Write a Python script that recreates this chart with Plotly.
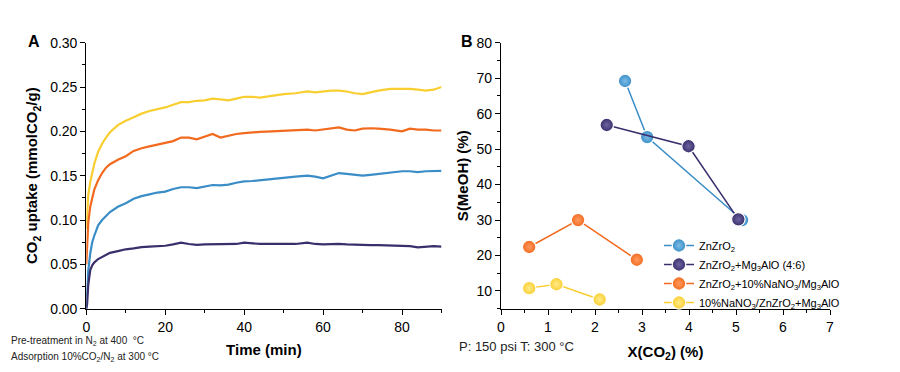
import plotly.graph_objects as go

# ---------------- Panel A data ----------------
time_min = [0, 0.2, 0.5, 1, 1.5, 2, 3, 4, 5, 6, 8, 10, 12, 14, 16, 18, 20, 22, 24, 26, 28, 30,
            32, 34, 36, 38, 40, 42, 44, 47, 50, 53, 56, 58, 60, 62, 64, 66, 68, 70, 72, 74,
            77, 80, 82, 84, 86, 88, 90]

uptake_yellow = [0.09, 0.111, 0.128, 0.143, 0.153, 0.163, 0.177, 0.186, 0.193, 0.199, 0.207, 0.212,
                 0.216, 0.220, 0.223, 0.225, 0.227, 0.230, 0.233, 0.233, 0.2345, 0.235, 0.237, 0.236,
                 0.235, 0.237, 0.239, 0.239, 0.238, 0.240, 0.242, 0.243, 0.245, 0.244, 0.245, 0.246,
                 0.246, 0.245, 0.243, 0.242, 0.244, 0.246, 0.248, 0.248, 0.248, 0.247, 0.246, 0.247, 0.250]

uptake_orange = [0.05, 0.078, 0.097, 0.115, 0.126, 0.134, 0.145, 0.153, 0.159, 0.163, 0.168, 0.172,
                 0.178, 0.181, 0.183, 0.185, 0.187, 0.189, 0.193, 0.193, 0.191, 0.194, 0.197, 0.193,
                 0.195, 0.197, 0.198, 0.199, 0.1995, 0.200, 0.2005, 0.201, 0.202, 0.201, 0.202, 0.203,
                 0.2045, 0.202, 0.201, 0.203, 0.2035, 0.203, 0.202, 0.200, 0.203, 0.202, 0.202, 0.201, 0.201]

uptake_blue = [0.0, 0.025, 0.043, 0.0625, 0.075, 0.082, 0.094, 0.100, 0.105, 0.109, 0.115, 0.119,
               0.124, 0.127, 0.129, 0.131, 0.132, 0.135, 0.137, 0.137, 0.136, 0.138, 0.1395, 0.139,
               0.140, 0.142, 0.1435, 0.144, 0.145, 0.146, 0.148, 0.149, 0.150, 0.149, 0.147, 0.150,
               0.153, 0.152, 0.151, 0.150, 0.151, 0.152, 0.153, 0.155, 0.155, 0.154, 0.155, 0.155, 0.1555]

uptake_purple = [0.0, 0.005, 0.027, 0.0436, 0.049, 0.052, 0.056, 0.0586, 0.061, 0.063, 0.065, 0.067,
                 0.068, 0.0695, 0.070, 0.0705, 0.071, 0.0725, 0.0744, 0.073, 0.072, 0.0725, 0.0726, 0.0725,
                 0.0725, 0.073, 0.0744, 0.0735, 0.073, 0.073, 0.073, 0.073, 0.0744, 0.073, 0.0725, 0.073,
                 0.073, 0.0725, 0.072, 0.0715, 0.0718, 0.0718, 0.0715, 0.0711, 0.0705, 0.0692, 0.070, 0.0705, 0.070]

# ---------------- Panel B data ----------------
names_b = ["ZnZrO<sub>2</sub>",
           "ZnZrO<sub>2</sub>+Mg<sub>3</sub>AlO (4:6)",
           "ZnZrO<sub>2</sub>+10%NaNO<sub>3</sub>/Mg<sub>3</sub>AlO",
           "10%NaNO<sub>3</sub>/ZnZrO<sub>2</sub>+Mg<sub>3</sub>AlO"]
x_blue = [2.64, 3.11, 5.13]
y_blue = [69.2, 53.4, 30.0]
x_purple = [2.25, 3.99, 5.05]
y_purple = [56.8, 50.8, 30.2]
x_orange = [0.60, 1.64, 2.89]
y_orange = [22.4, 30.0, 18.8]
err_orange = [0, 0.3, 0]
x_yellow = [0.60, 1.18, 2.10]
y_yellow = [10.8, 11.9, 7.6]
err_yellow = [0, 1.0, 0]

C_YEL = "#F9CE30"
C_ORA = "#F26A1E"
C_BLU = "#3A8DC6"
C_PUR = "#3A2F6C"
HL = {C_YEL: "#FFEB8A", C_ORA: "#FF9A5E", C_BLU: "#7CBDE8", C_PUR: "#6E64A0"}

FONT = "Arial, Liberation Sans, sans-serif"

# page offset of the figure inside the browser window (default body margin)
OFF = 8
W, H = 900, 372


def px_x(x):
    return (x - OFF) / W


def px_y(y):
    return 1 - (y - OFF) / H


fig = go.Figure()

for yv, col in [(uptake_yellow, C_YEL), (uptake_orange, C_ORA), (uptake_blue, C_BLU), (uptake_purple, C_PUR)]:
    fig.add_trace(go.Scatter(x=time_min, y=yv, mode="lines", line=dict(color=col, width=2.2),
                             showlegend=False, xaxis="x", yaxis="y"))

for xs, ys, col, nm, err in [(x_blue, y_blue, C_BLU, names_b[0], None),
                             (x_purple, y_purple, C_PUR, names_b[1], None),
                             (x_orange, y_orange, C_ORA, names_b[2], err_orange),
                             (x_yellow, y_yellow, C_YEL, names_b[3], err_yellow)]:
    kw = {}
    if err is not None:
        kw["error_y"] = dict(type="data", array=err, color="black", thickness=1, width=3)
    fig.add_trace(go.Scatter(
        x=xs, y=ys, mode="lines+markers", name=nm,
        line=dict(color=col, width=1.5),
        marker=dict(size=13.5, color=col, line=dict(color="white", width=1.2),
                    gradient=dict(type="radial", color=HL[col])),
        xaxis="x2", yaxis="y2", **kw))

axis_common = dict(showline=True, linecolor="black", linewidth=1.2, ticks="outside", ticklen=5,
                   tickwidth=1.2, tickcolor="black", showgrid=False, zeroline=False, automargin=False,
                   tickfont=dict(family=FONT, size=14, color="black"),
                   minor=dict(ticks="outside", ticklen=3, tickwidth=1, tickcolor="black"),
                   title_font=dict(family=FONT, size=15, color="black"))

ydom = [px_y(308.7), px_y(42.7)]

fig.update_layout(
    width=W, height=H, margin=dict(l=0, r=0, t=0, b=0, autoexpand=False),
    paper_bgcolor="white", plot_bgcolor="white",
    font=dict(family=FONT, color="black"),
    xaxis=dict(domain=[px_x(86.3), px_x(441.5)], range=[0, 90], dtick=20, tick0=0,
               minor_dtick=10, anchor="y",
               title=dict(text="<b>Time (min)</b>", standoff=10), **axis_common),
    yaxis=dict(domain=ydom, range=[0, 0.30], dtick=0.05, tickformat=".2f",
               minor_dtick=0.025, anchor="x",
               title=dict(text="<b>CO<sub>2</sub> uptake (mmolCO<sub>2</sub>/g)</b>", standoff=8), **axis_common),
    xaxis2=dict(domain=[px_x(501), px_x(830)], range=[0, 7], dtick=1, tick0=0,
                minor_dtick=0.5, anchor="y2",
                title=dict(text="<b>X(CO<sub>2</sub>) (%)</b>", standoff=12), **axis_common),
    yaxis2=dict(domain=ydom, range=[5, 80], dtick=10, tick0=0,
                minor_dtick=5, anchor="x2",
                title=dict(text="<b>S(MeOH) (%)</b>", standoff=4), **axis_common),
    legend=dict(x=px_x(659), y=px_y(231), xanchor="left", yanchor="top", bgcolor="rgba(0,0,0,0)",
                font=dict(family=FONT, size=11, color="black"), tracegroupgap=0,
                itemsizing="trace"),
)

ann = [
    dict(text="<b>A</b>", x=px_x(34), y=px_y(41), xanchor="center", yanchor="middle",
         font=dict(size=16, family=FONT, color="black")),
    dict(text="<b>B</b>", x=px_x(467), y=px_y(41), xanchor="center", yanchor="middle",
         font=dict(size=16, family=FONT, color="black")),
    dict(text="Pre-treatment in N<sub>2</sub> at 400  °C", x=px_x(9), y=px_y(341),
         xanchor="left", yanchor="middle", font=dict(size=10, family=FONT, color="#222")),
    dict(text="Adsorption 10%CO<sub>2</sub>/N<sub>2</sub> at 300 °C", x=px_x(9), y=px_y(357),
         xanchor="left", yanchor="middle", font=dict(size=10, family=FONT, color="#222")),
    dict(text="P: 150 psi T: 300 °C", x=px_x(457), y=px_y(346),
         xanchor="left", yanchor="middle", font=dict(size=13, family=FONT, color="#222")),
]
for a in ann:
    a.update(xref="paper", yref="paper", showarrow=False)
fig.update_layout(annotations=ann)

fig.write_html("out.html")
